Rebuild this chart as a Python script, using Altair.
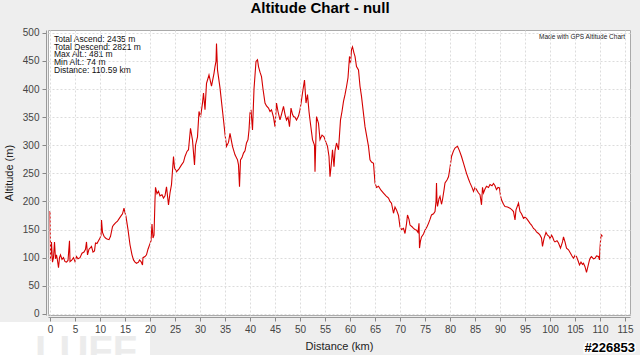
import altair as alt
import pandas as pd

dist_km = [0.0, 0.1, 0.3, 0.5, 0.7, 0.9, 1.1, 1.3, 1.5, 1.7, 1.9, 2.1, 2.4, 2.7, 3.0, 3.3, 3.6, 3.9, 4.0, 4.3,
           4.7, 5.0, 5.3, 5.6, 6.0, 6.4, 6.8, 7.1, 7.3, 7.5, 7.8, 8.1, 8.3, 8.6, 8.9, 9.1, 9.4, 9.7, 10.0, 10.2,
           10.3, 10.5, 10.8, 11.1, 11.4, 11.8, 12.1, 12.5, 12.7, 13.1, 13.5, 14.1, 14.5, 14.8, 15.0, 15.2, 15.6, 16.0, 16.4, 16.7,
           17.0, 17.3, 17.7, 17.9, 18.2, 18.5, 18.6, 19.0, 19.3, 19.6, 20.0, 20.2, 20.4, 20.6, 20.8, 21.0, 21.1, 21.4, 21.7, 22.0,
           22.4, 22.7, 23.0, 23.3, 23.5, 23.7, 24.0, 24.3, 24.7, 24.9, 25.3, 25.8, 26.3, 26.7, 27.0, 27.4, 27.7, 28.1, 28.5, 28.9,
           29.1, 29.5, 29.8, 30.1, 30.5, 30.7, 31.0, 31.3, 31.8, 32.3, 32.8, 33.0, 33.2, 33.3, 33.5, 34.0, 34.7, 35.0, 35.3, 35.7,
           36.0, 36.5, 37.0, 37.5, 37.7, 37.9, 38.1, 38.4, 38.7, 39.0, 39.3, 39.6, 39.8, 40.0, 40.2, 40.5, 40.8, 41.2, 41.5, 41.7,
           42.0, 42.3, 42.6, 43.0, 43.3, 43.7, 44.0, 44.3, 44.7, 45.0, 45.3, 45.6, 46.0, 46.3, 46.7, 47.0, 47.3, 47.6, 47.9, 48.2,
           48.5, 48.7, 49.0, 49.3, 49.7, 50.0, 50.3, 50.5, 50.9, 51.2, 51.5, 51.8, 52.0, 52.5, 52.9, 53.0, 53.3, 53.7, 54.0, 54.4,
           54.8, 55.2, 55.5, 55.8, 56.0, 56.3, 56.5, 56.8, 57.0, 57.3, 57.7, 58.1, 58.4, 58.7, 59.0, 59.3, 59.6, 59.9, 60.1, 60.3,
           60.5, 60.8, 61.0, 61.3, 61.7, 62.0, 62.3, 63.0, 63.7, 64.0, 64.3, 64.7, 65.0, 65.3, 65.7, 66.2, 66.7, 67.2, 67.7, 68.0,
           68.3, 68.7, 69.0, 69.3, 69.7, 70.0, 70.3, 70.7, 71.0, 71.3, 71.5, 71.8, 72.0, 72.4, 72.7, 73.0, 73.3, 73.6, 73.8, 73.9,
           74.1, 74.3, 74.7, 75.0, 75.4, 75.7, 76.0, 76.3, 76.7, 77.0, 77.2, 77.3, 77.4, 77.5, 77.8, 78.0, 78.3, 78.5, 78.8, 79.0,
           79.4, 79.7, 80.0, 80.3, 80.7, 81.0, 81.3, 81.5, 81.9, 82.3, 82.8, 83.3, 83.7, 84.0, 84.4, 84.7, 85.0, 85.3, 85.7, 86.0,
           86.3, 86.5, 86.7, 87.0, 87.3, 87.7, 88.0, 88.4, 88.7, 89.0, 89.3, 89.6, 89.9, 90.1, 90.3, 90.7, 91.0, 91.5, 92.0, 92.4,
           92.7, 93.0, 93.2, 93.7, 94.0, 94.3, 94.7, 95.0, 95.3, 95.7, 96.0, 96.3, 96.7, 97.0, 97.3, 97.7, 98.0, 98.3, 98.5, 98.8,
           99.2, 99.5, 99.8, 100.0, 100.3, 100.5, 100.8, 101.0, 101.4, 101.7, 102.1, 102.5, 102.7, 103.0, 103.3, 103.7, 104.1, 104.4, 104.7, 105.0,
           105.3, 105.6, 105.9, 106.2, 106.5, 106.7, 107.0, 107.3, 107.6, 107.9, 108.1, 108.3, 108.7, 109.0, 109.3, 109.7, 109.9, 110.0, 110.2, 110.5]

altitude_m = [183, 95, 128, 92, 100, 128, 98, 105, 95, 82, 100, 105, 97, 100, 93, 92, 95, 130, 93, 95,
              100, 93, 102, 98, 100, 108, 110, 115, 128, 105, 115, 118, 120, 110, 112, 126, 125, 130, 135, 140,
              167, 145, 138, 135, 133, 132, 138, 155, 158, 162, 165, 173, 178, 188, 180, 173, 150, 123, 105, 96,
              92, 90, 92, 96, 93, 87, 100, 102, 105, 115, 125, 130, 160, 135, 140, 203, 225, 214, 218, 210,
              212, 206, 210, 226, 210, 194, 215, 230, 280, 260, 253, 258, 265, 270, 280, 289, 292, 330, 309, 265,
              300, 315, 360, 350, 375, 393, 363, 410, 425, 405, 428, 440, 449, 481, 434, 402, 345, 320, 298, 305,
              321, 298, 283, 274, 265, 226, 274, 278, 286, 290, 304, 310, 327, 357, 363, 327, 400, 449, 452, 440,
              430, 422, 400, 375, 370, 366, 360, 363, 350, 333, 375, 360, 345, 355, 369, 355, 345, 350, 333, 366,
              355, 351, 350, 345, 352, 363, 380, 393, 416, 375, 390, 360, 345, 310, 300, 253, 351, 339, 310, 318,
              315, 305, 298, 280, 244, 270, 292, 262, 290, 304, 292, 345, 360, 378, 390, 404, 420, 458, 445, 470,
              475, 464, 458, 440, 434, 405, 387, 333, 298, 274, 270, 268, 233, 225, 227, 220, 215, 210, 206, 200,
              197, 179, 190, 185, 175, 155, 150, 152, 143, 160, 176, 168, 158, 155, 152, 150, 149, 145, 161, 117,
              130, 137, 142, 149, 155, 161, 168, 176, 178, 182, 200, 233, 200, 191, 205, 209, 195, 203, 220, 233,
              238, 244, 260, 280, 290, 295, 297, 298, 290, 280, 265, 250, 240, 233, 225, 218, 225, 221, 215, 212,
              194, 225, 215, 222, 227, 225, 230, 228, 232, 228, 221, 225, 224, 210, 203, 195, 191, 190, 188, 185,
              182, 167, 185, 197, 182, 178, 170, 172, 170, 165, 161, 158, 152, 150, 146, 143, 140, 135, 120, 134,
              145, 140, 138, 134, 140, 137, 130, 128, 130, 126, 117, 128, 137, 128, 117, 114, 108, 103, 99, 104,
              102, 95, 87, 92, 88, 90, 84, 74, 85, 96, 100, 102, 98, 99, 103, 102, 96, 117, 141, 138]

x_ticks = list(range(0, 120, 5))
y_ticks = list(range(0, 550, 50))

stats_lines = ["Total Ascend: 2435 m", "Total Descend: 2821 m", "Max Alt.: 481 m",
               "Min Alt.: 74 m", "Distance: 110.59 km"]
credit_text = "Made with GPS Altitude Chart"
title_text = "Altitude Chart - null"
watermark_text = "LUFF"
id_text = "#226853"

df = pd.DataFrame({"Distance": dist_km, "Altitude": altitude_m})
one = pd.DataFrame({"k": [0]})

FONT = "Liberation Sans"

x_enc = alt.X("Distance:Q",
              scale=alt.Scale(domain=[-0.4, 116], nice=False, zero=False),
              axis=alt.Axis(values=x_ticks, title="Distance (km)", offset=2, zindex=1,
                            grid=True, gridDash=[2, 2], gridColor="#dcdcdc",
                            labelFontSize=10, labelColor="#444444", labelFont=FONT,
                            tickColor="#888888", tickSize=4, domainColor="#999999",
                            titleFont=FONT, titleFontSize=11, titleFontWeight="normal",
                            titleColor="#222222", titlePadding=6, labelPadding=3))
y_enc = alt.Y("Altitude:Q",
              scale=alt.Scale(domain=[-2, 505], nice=False, zero=False),
              axis=alt.Axis(values=y_ticks, title="Altitude (m)", offset=2,
                            grid=True, gridDash=[2, 2], gridColor="#dcdcdc",
                            labelFontSize=10, labelColor="#444444", labelFont=FONT,
                            tickColor="#888888", tickSize=4, domainColor="#999999",
                            titleFont=FONT, titleFontSize=11, titleFontWeight="normal",
                            titleColor="#222222", titlePadding=8, labelPadding=3))

line = alt.Chart(df).mark_line(color="#d40000", strokeWidth=1.1).encode(x=x_enc, y=y_enc)

stats = alt.Chart(one).mark_text(align="left", baseline="alphabetic", fontSize=8.5, font=FONT,
                                 lineHeight=7.7, color="#111111").encode(
    x=alt.value(6), y=alt.value(12), text=alt.value(stats_lines))

credit = alt.Chart(one).mark_text(align="right", baseline="alphabetic", fontSize=6.5, font=FONT,
                                  color="#222222").encode(
    x=alt.value(577), y=alt.value(9), text=alt.value(credit_text))

white_box = alt.Chart(one).mark_rect(color="white").encode(
    x=alt.value(-48), x2=alt.value(102), y=alt.value(292), y2=alt.value(330))

watermark = alt.Chart(one).mark_text(align="left", baseline="alphabetic", fontSize=40, font=FONT,
                                     fontWeight="bold", color="#ececec").encode(
    x=alt.value(-13), y=alt.value(334), text=alt.value(watermark_text))

id_outline = alt.Chart(one).mark_text(align="right", baseline="alphabetic", fontSize=13, font=FONT,
                                      fontWeight="bold", color="white", stroke="white",
                                      strokeWidth=3).encode(
    x=alt.value(587), y=alt.value(322), text=alt.value(id_text))
id_fill = alt.Chart(one).mark_text(align="right", baseline="alphabetic", fontSize=13, font=FONT,
                                   fontWeight="bold", color="black").encode(
    x=alt.value(587), y=alt.value(322), text=alt.value(id_text))

chart = alt.layer(white_box, watermark, line, stats, credit, id_outline, id_fill).properties(
    width=582, height=285,
    autosize=alt.AutoSizeParams(type="none"),
    padding={"left": 48, "top": 30, "right": 10, "bottom": 40},
    background="#eeeeee",
    title=alt.TitleParams(title_text, font=FONT, fontSize=15, fontWeight="bold", color="black",
                          anchor="middle", dx=-19, offset=12),
).configure_view(fill="white", stroke="#aaaaaa")

chart.save("out.html", embed_options={"renderer": "svg", "actions": False})
